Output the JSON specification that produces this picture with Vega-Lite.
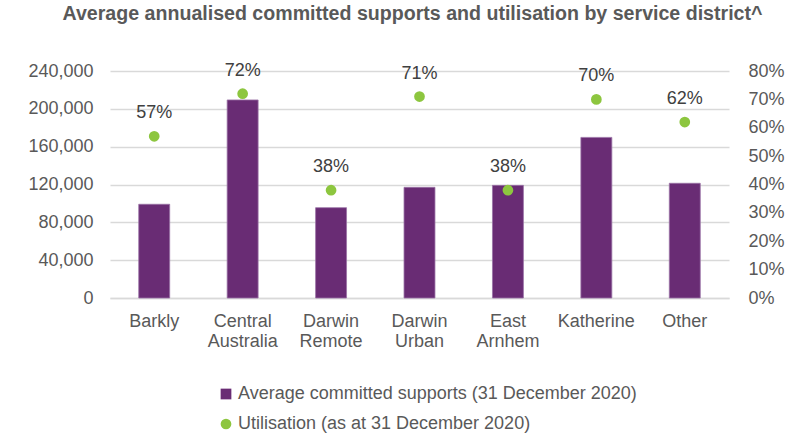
{
  "$schema": "https://vega.github.io/schema/vega-lite/v6.json",
  "autosize": {"type": "none"},
  "width": 619,
  "height": 227,
  "padding": {"left": 110, "top": 71, "right": 61, "bottom": 139},
  "background": "white",
  "title": {
    "text": "Average annualised committed supports and utilisation by service district^",
    "font": "Liberation Sans",
    "fontSize": 19.6,
    "fontWeight": "bold",
    "color": "#595959",
    "anchor": "middle",
    "dx": -7,
    "offset": 37
  },
  "config": {
    "view": {"stroke": null},
    "axis": {
      "labelFont": "Liberation Sans",
      "labelFontSize": 18,
      "labelColor": "#595959",
      "ticks": false,
      "domain": false,
      "title": null,
      "gridColor": "#d9d9d9",
      "gridWidth": 1.5
    },
    "legend": {
      "labelFont": "Liberation Sans",
      "labelFontSize": 18,
      "labelColor": "#595959",
      "labelLimit": 600,
      "symbolStrokeWidth": 0
    }
  },
  "data": {
    "values": [
      {"district": "Barkly", "supports": 99100, "utilisation": 0.57},
      {"district": "Central Australia", "supports": 209400, "utilisation": 0.72},
      {"district": "Darwin Remote", "supports": 95500, "utilisation": 0.38},
      {"district": "Darwin Urban", "supports": 117000, "utilisation": 0.71},
      {"district": "East Arnhem", "supports": 119100, "utilisation": 0.38},
      {"district": "Katherine", "supports": 169800, "utilisation": 0.70},
      {"district": "Other", "supports": 121300, "utilisation": 0.62}
    ]
  },
  "encoding": {
    "x": {
      "field": "district",
      "type": "nominal",
      "sort": null,
      "scale": {"paddingInner": 0, "paddingOuter": 0},
      "axis": {
        "labelAngle": 0,
        "labelPadding": 14,
        "labelLineHeight": 20,
        "labelExpr": "split(datum.label, ' ')",
        "domain": true,
        "domainColor": "#d9d9d9",
        "domainWidth": 1.5
      }
    }
  },
  "layer": [
    {
      "mark": {"type": "bar", "width": {"band": 0.35}, "stroke": "#9a72a6", "strokeWidth": 0.8},
      "encoding": {
        "y": {
          "field": "supports",
          "type": "quantitative",
          "scale": {"domain": [0, 240000]},
          "axis": {
            "orient": "left",
            "values": [0, 40000, 80000, 120000, 160000, 200000, 240000],
            "format": ",.0f",
            "labelPadding": 17,
            "grid": true
          }
        },
        "color": {
          "datum": "Average committed supports (31 December 2020)",
          "scale": {
            "domain": ["Average committed supports (31 December 2020)", "Utilisation (as at 31 December 2020)"],
            "range": ["#692c74", "#8dc63f"]
          },
          "legend": {
            "title": null,
            "orient": "none",
            "legendX": 107,
            "legendY": 314,
            "direction": "vertical",
            "symbolSize": 115,
            "rowPadding": 12,
            "labelOffset": 3
          }
        }
      }
    },
    {
      "encoding": {
        "y": {
          "field": "utilisation",
          "type": "quantitative",
          "scale": {"domain": [0, 0.8]},
          "axis": {
            "orient": "right",
            "values": [0, 0.1, 0.2, 0.3, 0.4, 0.5, 0.6, 0.7, 0.8],
            "format": ".0%",
            "labelPadding": 19,
            "grid": false
          }
        }
      },
      "layer": [
        {
          "mark": {"type": "point", "filled": true, "size": 115, "opacity": 1},
          "encoding": {
            "color": {"datum": "Utilisation (as at 31 December 2020)"},
            "shape": {
              "datum": "Utilisation (as at 31 December 2020)",
              "scale": {
                "domain": ["Average committed supports (31 December 2020)", "Utilisation (as at 31 December 2020)"],
                "range": ["square", "circle"]
              },
              "legend": {
                "title": null,
                "orient": "none",
                "legendX": 107,
                "legendY": 314,
                "direction": "vertical",
                "symbolSize": 115,
                "rowPadding": 12,
                "labelOffset": 3
              }
            }
          }
        },
        {
          "mark": {"type": "text", "font": "Liberation Sans", "fontSize": 18, "color": "#404040", "dy": -23, "baseline": "middle"},
          "encoding": {
            "text": {"field": "utilisation", "type": "quantitative", "format": ".0%"}
          }
        }
      ]
    }
  ],
  "resolve": {"scale": {"y": "independent"}}
}
